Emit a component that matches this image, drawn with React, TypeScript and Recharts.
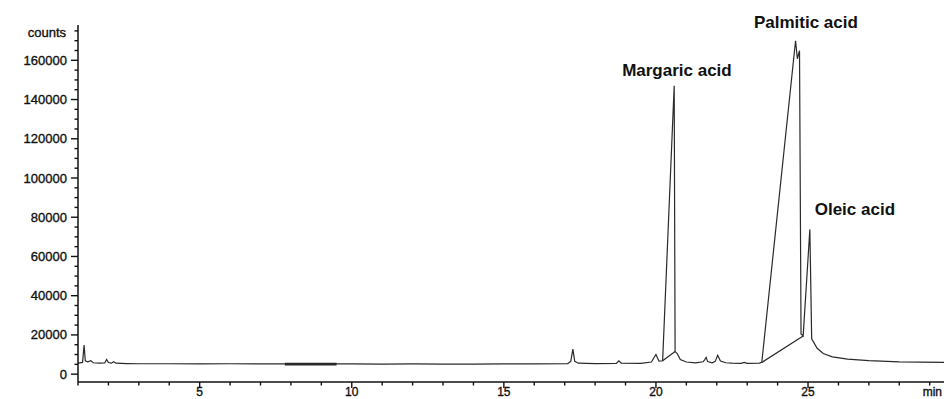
import React from "react";
import { LineChart, Line, XAxis, YAxis, ReferenceDot } from "recharts";

// retention time (min) and detector counts of the trace
const times = [
  1.0, 1.15, 1.2, 1.24, 1.32, 1.42, 1.5, 1.7, 1.88, 1.94, 2.0, 2.1, 2.17, 2.25, 2.6, 3.0, 4.0, 5.0, 6.0, 7.0, 7.8,
  9.5, 10.0, 11.0, 12.0, 13.0, 14.0, 15.0, 16.0, 17.1, 17.2, 17.27, 17.33, 17.45, 18.0, 18.7, 18.78, 18.86, 19.5,
  19.85, 20.0, 20.1, 20.22, 20.6, 20.63, 20.7, 20.8, 21.0, 21.3, 21.55, 21.6, 21.65, 21.7, 21.85, 21.95, 22.03,
  22.12, 22.3, 22.5, 22.8, 22.9, 23.0, 23.4, 23.48, 24.59, 24.65, 24.72, 24.77, 24.84, 25.06, 25.12, 25.3, 25.5,
  25.8, 26.3, 27.0, 28.0, 29.47,
];
const counts = [
  5600, 6000, 14800, 6800, 6300, 6900, 5800, 5600, 5700, 7500, 5900, 5600, 6300, 5600, 5400, 5300, 5300, 5200, 5300,
  5200, 5200, 5200, 5200, 5100, 5200, 5100, 5100, 5200, 5200, 5400, 6500, 12800, 6500, 5600, 5400, 5500, 6800, 5600,
  5500, 6200, 10000, 6600, 6800, 147000, 11500, 10500, 7400, 6200, 5800, 6300, 7300, 8600, 6400, 5800, 6500, 9600,
  6700, 5800, 5600, 5500, 6000, 5500, 5600, 6000, 170000, 160800, 164900, 20500, 19500, 73800, 18000, 13200, 10500,
  8800, 7700, 6900, 6300, 6000,
];

// drawn integration baselines under the big peaks (null = gap)
const baseTimes = [20.22, 20.63, 22.0, 23.48, 24.84];
const baseCounts = [6800, 11500, null, 6000, 19500];

// noisy stretch drawn heavier
const noiseTimes = [7.8, 9.5];
const noiseCounts = [5100, 5100];

const peakNames = ["Margaric acid", "Palmitic acid", "Oleic acid"];
const peakLabelTimes = [20.69, 24.93, 26.54];
const peakLabelCounts = [155000, 179500, 84200];

const xTicks = Array.from({ length: 29 }, (_, i) => i + 1);
const yTicks = Array.from({ length: 36 }, (_, i) => i * 5000);

const trace = times.map((t, i) => ({ t, v: counts[i] }));
const baselines = baseTimes.map((t, i) => ({ t, v: baseCounts[i] }));
const noise = noiseTimes.map((t, i) => ({ t, v: noiseCounts[i] }));

const font = "'Liberation Sans', Arial, sans-serif";
const ink = "#111";
const lineColor = "#2a2a2a";

const tickText = { fontSize: 13, fontFamily: font, fill: ink, stroke: ink, strokeWidth: 0.35 };
const xTickText = { ...tickText, fontSize: 12 };

const XTick = (props: any) => {
  const { x, y, payload } = props;
  const major = payload.value % 5 === 0;
  return (
    <g>
      <line x1={x} x2={x} y1={y} y2={y + (major ? 6 : 3.5)} stroke={ink} strokeWidth={1.4} />
      {major && (
        <text x={x} y={y + 14} textAnchor="middle" {...xTickText}>
          {payload.value}
        </text>
      )}
    </g>
  );
};

const YTick = (props: any) => {
  const { x, y, payload } = props;
  const major = payload.value % 20000 === 0;
  return (
    <g>
      <line x1={x - (major ? 7 : 3.5)} x2={x} y1={y} y2={y} stroke={ink} strokeWidth={1.4} />
      {major && (
        <text x={x - 11} y={y + 4.5} textAnchor="end" {...tickText}>
          {payload.value}
        </text>
      )}
    </g>
  );
};

export default function App() {
  return (
    <div style={{ position: "absolute", left: 0, top: 0, width: 944, height: 399, overflow: "hidden", background: "#fff" }}>
      <LineChart width={944} height={399} margin={{ top: 25, right: 0, bottom: 0, left: 0 }}>
        <XAxis
          type="number"
          dataKey="t"
          domain={[1, 29.47]}
          allowDataOverflow
          ticks={xTicks}
          interval={0}
          tick={<XTick />}
          tickLine={false}
          tickSize={0}
          tickMargin={0}
          height={17}
          axisLine={{ stroke: ink, strokeWidth: 1.5 }}
          label={{
            content: (p: any) => (
              <text x={p.viewBox.x + p.viewBox.width - 2} y={p.viewBox.y + 14} textAnchor="end" {...xTickText}>
                min
              </text>
            ),
          }}
        />
        <YAxis
          type="number"
          domain={[-4000, 178000]}
          allowDataOverflow
          ticks={yTicks}
          interval={0}
          tick={<YTick />}
          tickLine={false}
          tickSize={0}
          tickMargin={0}
          width={78}
          axisLine={{ stroke: ink, strokeWidth: 1.5 }}
          label={{
            content: (p: any) => (
              <text x={p.viewBox.x + p.viewBox.width - 12} y={p.viewBox.y + 12} textAnchor="end" {...tickText}>
                counts
              </text>
            ),
          }}
        />
        <Line data={noise} dataKey="v" stroke={lineColor} strokeWidth={2.6} dot={false} isAnimationActive={false} />
        <Line data={baselines} dataKey="v" stroke={lineColor} strokeWidth={1.2} dot={false} connectNulls={false} isAnimationActive={false} />
        <Line data={trace} dataKey="v" stroke={lineColor} strokeWidth={1.2} dot={false} isAnimationActive={false} />
        {peakNames.map((name, i) => (
          <ReferenceDot
            key={name}
            x={peakLabelTimes[i]}
            y={peakLabelCounts[i]}
            ifOverflow="visible"
            shape={(p: any) => (
              <text x={p.cx} y={p.cy + 6} textAnchor="middle" fontSize={17} fontWeight="bold" fontFamily={font} fill={ink}>
                {name}
              </text>
            )}
          />
        ))}
      </LineChart>
    </div>
  );
}
